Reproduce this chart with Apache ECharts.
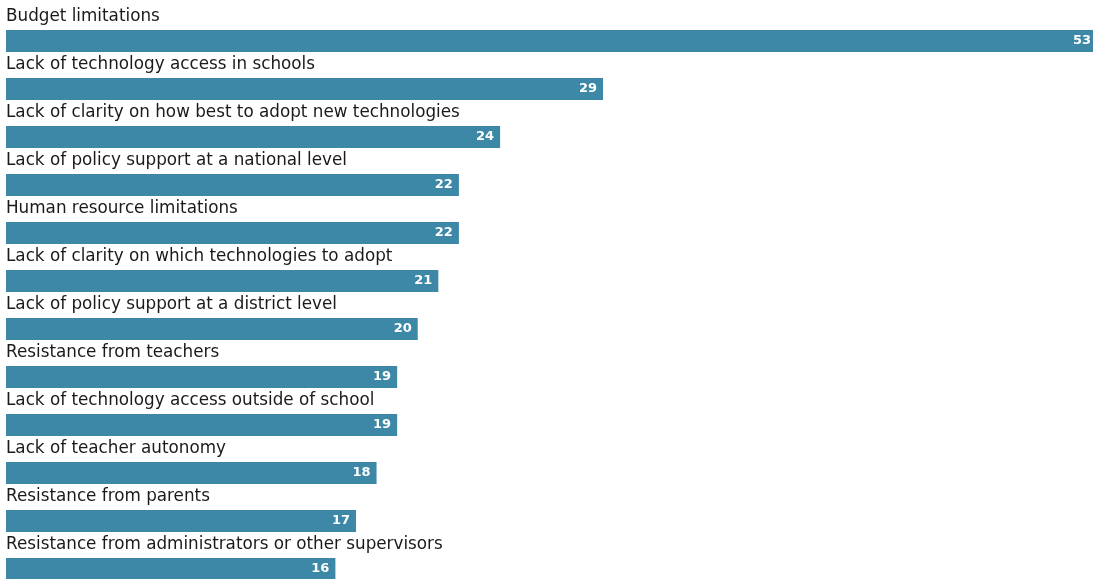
<!DOCTYPE html>
<html><head><meta charset="utf-8">
<script src="https://cdn.jsdelivr.net/npm/echarts@6/dist/echarts.min.js"></script>
<style>html,body{margin:0;padding:0;background:#fff;overflow:hidden}#c{width:1093px;height:579px}</style>
</head><body><div id="c"></div>
<script>
const categories = [
  "Budget limitations",
  "Lack of technology access in schools",
  "Lack of clarity on how best to adopt new technologies",
  "Lack of policy support at a national level",
  "Human resource limitations",
  "Lack of clarity on which technologies to adopt",
  "Lack of policy support at a district level",
  "Resistance from teachers",
  "Lack of technology access outside of school",
  "Lack of teacher autonomy",
  "Resistance from parents",
  "Resistance from administrators or other supervisors"
];
const values = [53, 29, 24, 22, 22, 21, 20, 19, 19, 18, 17, 16];

const chart = echarts.init(document.getElementById('c'), null, {renderer: 'canvas'});
chart.setOption({
  animation: false,
  grid: {left: 6, right: 0, top: 17, height: 576, containLabel: false, outerBoundsMode: 'none'},
  xAxis: {type: 'value', min: 0, max: 52.8, show: false},
  yAxis: {
    type: 'category', data: categories, inverse: true,
    axisLine: {show: false}, axisTick: {show: false}, splitLine: {show: false},
    axisLabel: {
      inside: true, margin: 0, align: 'left', verticalAlign: 'middle',
      interval: 0, showMinLabel: true, showMaxLabel: true, hideOverlap: false,
      formatter: function (v) { return v + '\n '; },
      lineHeight: 48,
      fontFamily: 'DejaVu Sans', fontSize: 16.8, color: '#1a1a1a'
    },
    z: 10
  },
  series: [{
    type: 'bar', data: values, barWidth: 22, clip: false,
    itemStyle: {color: '#3d88a7'},
    label: {
      show: true, position: 'insideRight', distance: 6,
      color: '#fff', fontWeight: 'bold', fontSize: 13, fontFamily: 'DejaVu Sans'
    }
  }]
});
</script></body></html>
